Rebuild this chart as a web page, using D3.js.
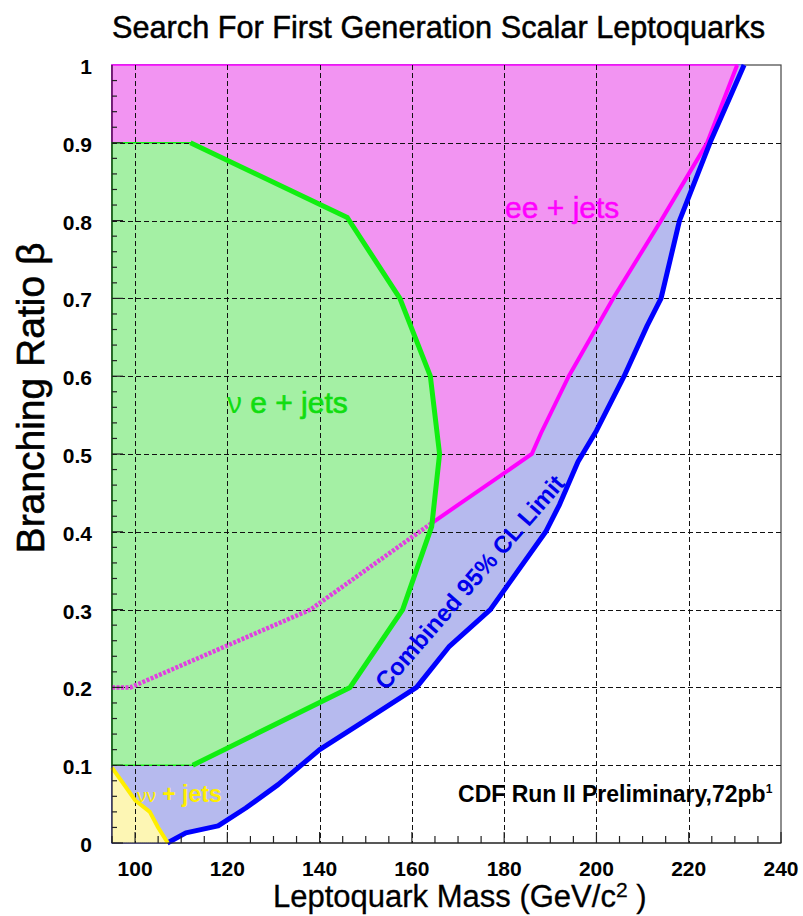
<!DOCTYPE html>
<html>
<head>
<meta charset="utf-8">
<script src="https://cdn.jsdelivr.net/npm/d3@7"></script>
<style>
  html, body { margin: 0; padding: 0; background: #fff; }
  svg { display: block; font-family: "Liberation Sans", Arial, Helvetica, sans-serif; }
</style>
</head>
<body>
<svg id="chart" width="803" height="916"></svg>
<script>
// Exclusion contours: leptoquark mass (GeV/c^2) vs branching ratio beta
const massTicks = [100, 120, 140, 160, 180, 200, 220, 240];
const betaTicks = [0, 0.1, 0.2, 0.3, 0.4, 0.5, 0.6, 0.7, 0.8, 0.9, 1];

// Combined 95% CL limit
const combinedMass = [107, 111, 118, 124, 131, 140, 150, 161, 168, 177, 189, 192, 196, 200, 206, 211, 214, 218, 224.6, 232];
const combinedBeta = [0, 0.013, 0.022, 0.045, 0.075, 0.12, 0.158, 0.2, 0.252, 0.30, 0.40, 0.435, 0.49, 0.53, 0.60, 0.665, 0.70, 0.80, 0.90, 1.0];

// ee + jets
const eeMass = [95, 99, 138, 164, 186, 188, 194, 203.6, 214, 224, 230.5];
const eeBeta = [0.2, 0.2, 0.30, 0.41, 0.50, 0.527, 0.60, 0.70, 0.80, 0.90, 1.0];

// nu e + jets
const enuMass = [95, 112, 146, 157.4, 164, 166, 164.3, 158, 146.6, 112.5, 95];
const enuBeta = [0.9, 0.9, 0.804, 0.70, 0.60, 0.50, 0.407, 0.30, 0.20, 0.10, 0.10];

// nu nu + jets
const nunuMass = [95, 100, 103.2, 105, 107.1];
const nunuBeta = [0.097, 0.055, 0.04, 0.02, 0];

const svg = d3.select("#chart");
const x = d3.scaleLinear().domain([95, 240]).range([112, 781]);
const y = d3.scaleLinear().domain([0, 1]).range([843, 65]);

const zip = (a, b) => a.map((v, i) => [v, b[i]]);
const line = d3.line().x(d => x(d[0])).y(d => y(d[1]));

const combinedPts = zip(combinedMass, combinedBeta);
const eePts = zip(eeMass, eeBeta);
const enuPts = zip(enuMass, enuBeta);
const nunuPts = zip(nunuMass, nunuBeta);

const defs = svg.append("defs");
// mask hiding the ve+jets region
const mask = defs.append("mask").attr("id", "outsideGreen");
mask.append("rect").attr("width", 803).attr("height", 916).attr("fill", "#fff");
mask.append("path").attr("d", line(enuPts) + "Z").attr("fill", "#000");
defs.append("clipPath").attr("id", "insideGreen")
  .append("path").attr("d", line(enuPts) + "Z");

// frame
svg.append("rect")
  .attr("x", x(95)).attr("y", y(1))
  .attr("width", x(240) - x(95)).attr("height", y(0) - y(1))
  .attr("fill", "#fff").attr("stroke", "#444").attr("stroke-width", 1.2);

// filled regions
const fills = svg.append("g");
fills.append("path")
  .attr("d", line([[95, 0], ...combinedPts, [95, 1]]) + "Z")
  .attr("fill", "#b6baee").attr("stroke", "#6a6af0").attr("stroke-width", 1.2);
fills.append("path")
  .attr("d", line([...eePts, [95, 1]]) + "Z")
  .attr("fill", "#f294f2").attr("stroke", "#ff00ff").attr("stroke-width", 1.6);
fills.append("path")
  .attr("d", line(enuPts) + "Z")
  .attr("fill", "#a4f0a4").attr("stroke", "#11ee11").attr("stroke-width", 1.6);
fills.append("path")
  .attr("d", line([...nunuPts, [95, 0]]) + "Z")
  .attr("fill", "#fdf6b4").attr("stroke", "#6a6af0").attr("stroke-width", 1.2)
  .attr("stroke-dasharray", "1,1");

// dashed grid
const grid = svg.append("g").attr("stroke", "#111").attr("stroke-width", 1)
  .attr("stroke-dasharray", "5,3").attr("shape-rendering", "crispEdges");
grid.selectAll("line.v").data(massTicks.filter(d => d < 240)).join("line")
  .attr("class", "v")
  .attr("x1", d => Math.round(x(d)) + 0.5).attr("x2", d => Math.round(x(d)) + 0.5)
  .attr("y1", y(1)).attr("y2", y(0));
grid.selectAll("line.h").data(betaTicks.filter(d => d > 0 && d < 1)).join("line")
  .attr("class", "h")
  .attr("x1", x(95)).attr("x2", x(240))
  .attr("y1", d => Math.round(y(d)) + 0.5).attr("y2", d => Math.round(y(d)) + 0.5);

// contour lines
svg.append("path").attr("d", line(eePts)).attr("fill", "none")
  .attr("stroke", "#ff00ff").attr("stroke-width", 4).attr("mask", "url(#outsideGreen)");
svg.append("path").attr("d", line(eePts)).attr("fill", "none")
  .attr("stroke", "#e040e0").attr("stroke-width", 4.5).attr("stroke-dasharray", "3,1.5")
  .attr("clip-path", "url(#insideGreen)");
svg.append("path").attr("d", line(enuPts.slice(1, -1))).attr("fill", "none")
  .attr("stroke", "#11ee11").attr("stroke-width", 5).attr("stroke-linejoin", "round");
svg.append("path").attr("d", line(combinedPts)).attr("fill", "none")
  .attr("stroke", "#0000ff").attr("stroke-width", 5).attr("stroke-linejoin", "round");
svg.append("path").attr("d", line(nunuPts)).attr("fill", "none")
  .attr("stroke", "#ffee00").attr("stroke-width", 4).attr("stroke-linejoin", "round");

// axis lines and inward ticks
const axes = svg.append("g").attr("stroke", "#222").attr("stroke-width", 1.2);
axes.append("line").attr("x1", x(95)).attr("x2", x(240)).attr("y1", y(0)).attr("y2", y(0));
axes.append("line").attr("x1", x(95)).attr("x2", x(95)).attr("y1", y(0)).attr("y2", y(1));
const xMinor = d3.range(95, 240.01, 5);
axes.selectAll("line.xt").data(xMinor).join("line").attr("class", "xt")
  .attr("x1", d => x(d)).attr("x2", d => x(d))
  .attr("y1", y(0)).attr("y2", d => y(0) - (d % 20 === 0 ? 11 : 7));
const yMinor = d3.range(0, 50).map(i => i / 50);
axes.selectAll("line.yt").data(yMinor).join("line").attr("class", "yt")
  .attr("x1", x(95)).attr("x2", d => x(95) + (Math.round(d * 50) % 5 === 0 ? 11 : 5))
  .attr("y1", d => y(d)).attr("y2", d => y(d));

// tick labels
const fmt = d => (d === 0 || d === 1) ? String(d) : d.toFixed(1);
svg.append("g").selectAll("text").data(massTicks).join("text")
  .attr("x", d => x(d)).attr("y", 876)
  .attr("text-anchor", "middle").attr("font-size", 21).attr("font-weight", "bold")
  .text(d => d);
svg.append("g").selectAll("text").data(betaTicks).join("text")
  .attr("x", 92).attr("y", d => y(d) + 9)
  .attr("text-anchor", "end").attr("font-size", 21).attr("font-weight", "bold")
  .text(fmt);

// titles
svg.append("text").attr("x", 112).attr("y", 38).attr("font-size", 32)
  .attr("textLength", 653).attr("lengthAdjust", "spacingAndGlyphs")
  .attr("stroke", "#000").attr("stroke-width", 0.5)
  .text("Search For First Generation Scalar Leptoquarks");

const xt = svg.append("text").attr("x", 273).attr("y", 907).attr("font-size", 31)
  .attr("stroke", "#000").attr("stroke-width", 0.3);
xt.append("tspan").text("Leptoquark Mass (GeV/c");
xt.append("tspan").attr("dx", 0).attr("dy", -10).attr("font-size", 21).text("2");
xt.append("tspan").attr("dy", 10).text(" )");

svg.append("text")
  .attr("transform", "translate(44,398) rotate(-90)")
  .attr("text-anchor", "middle").attr("font-size", 39)
  .attr("stroke", "#000").attr("stroke-width", 0.6)
  .text("Branching Ratio β");

// region labels
svg.append("text").attr("x", x(180.2)).attr("y", y(0.803))
  .attr("font-size", 30).attr("fill", "#ff00ff")
  .attr("stroke", "#ff00ff").attr("stroke-width", 0.5).text("ee + jets");
const ve = svg.append("text").attr("x", x(119.9)).attr("y", y(0.553))
  .attr("font-size", 30).attr("fill", "#11dd11");
ve.append("tspan").text("ν");
ve.append("tspan").attr("stroke", "#11dd11").attr("stroke-width", 0.7).text(" e + jets");
const nn = svg.append("text").attr("x", x(100.4)).attr("y", y(0.053))
  .attr("font-size", 23).attr("fill", "#ffee00");
nn.append("tspan").attr("font-size", 19).text("νν");
nn.append("tspan").attr("font-weight", "bold").text(" + jets");

svg.append("text")
  .attr("transform", `translate(${x(154.4)},${y(0.195)}) rotate(-49)`)
  .attr("font-size", 24).attr("font-weight", "bold").attr("fill", "#0000ee")
  .text("Combined 95% CL Limit");

const cdf = svg.append("text").attr("x", x(170)).attr("y", y(0.053))
  .attr("font-size", 23).attr("font-weight", "bold");
cdf.append("tspan").text("CDF Run II Preliminary,72pb");
cdf.append("tspan").attr("dy", -9).attr("font-size", 12).text("1");
</script>
</body>
</html>
